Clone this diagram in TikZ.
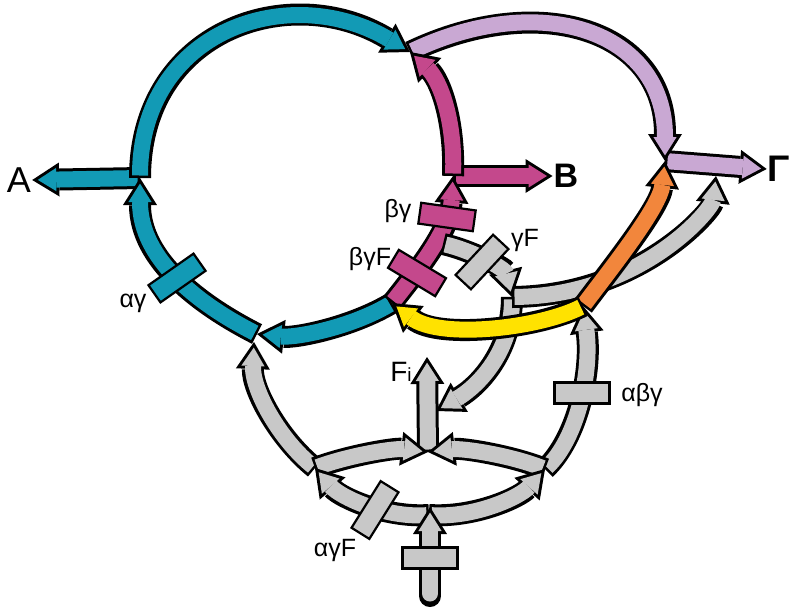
\documentclass[tikz,border=0pt]{standalone}
\usepackage{fontspec}
\setmainfont{Liberation Sans}
\usetikzlibrary{arrows.meta}

\definecolor{fluxblue}{RGB}{18,154,181}
\definecolor{fluxlilac}{RGB}{201,168,211}
\definecolor{fluxpink}{RGB}{196,72,140}
\definecolor{fluxorange}{RGB}{242,134,60}
\definecolor{fluxyellow}{RGB}{255,226,0}
\definecolor{fluxgrey}{RGB}{200,200,200}

\tikzset{
  rim/.style={draw=black, line width=22pt,
    -{Triangle[length=27pt,width=34pt,line width=0pt]}},
  core/.style={draw=#1, line width=16pt, shorten >=5.6pt, shorten <=2.5pt,
    -{Triangle[length=18.4pt,width=23.2pt,line width=0pt]}}
}
% fat arrow: black rim first, coloured core on top
\newcommand{\flux}[3][]{\draw[rim,#1] #3;\draw[core=#2,#1] #3;}

\begin{document}
\begin{tikzpicture}[
x=1pt, y=-1pt,
bar/.style={
  draw=black,
  line width=2.2pt,
  fill=#1,
  minimum width=55pt,
  minimum height=21pt,
  inner sep=0pt
  },
lbl/.style={inner sep=1pt, font=\fontsize{25}{25}\selectfont},
big/.style={inner sep=1pt, font=\fontsize{36}{36}\selectfont}
]
\path[use as bounding box, fill=white] (0,0) rectangle (800,614);

% junctions
\coordinate (jTop) at (410,52);
\coordinate (jA) at (140,178);
\coordinate (jBl) at (257,334);
\coordinate (jBlg) at (254,342);
\coordinate (jBr) at (392,303);
\coordinate (jB) at (453,176);
\coordinate (jM) at (443,244);
\coordinate (jG) at (665,161);
\coordinate (jO) at (583,306);
\coordinate (jK) at (512,297);
\coordinate (jL) at (315,468);
\coordinate (jR) at (545,469);
\coordinate (jF) at (428,452);
\coordinate (jBot) at (429,515);
\coordinate (jIn) at (430,596);
\coordinate (jInTip) at (430,507);
\coordinate (jFi) at (427,357);
\coordinate (jFl) at (436,411);
\coordinate (jGg) at (716,176);

% outputs
\node[big] (lblA) at (19,180) {A};
\node[big, font=\fontsize{34}{34}\selectfont\bfseries] (lblB) at (566,176) {B};
\node[big, font=\fontsize{37}{37}\selectfont\bfseries] (lblG) at (779,169) {Γ};
\node[inner sep=1pt, font=\fontsize{28}{28}\selectfont] (lblFi) at (401,372)
  {F{\fontsize{19}{19}\selectfont i}};

\flux{fluxblue}{(jA) -- (lblA.east)}
\flux{fluxpink}{(jB) -- (lblB.west)}
\flux{fluxlilac}{(jG) -- (lblG.west)}

% lilac, blue and pink cycles
\flux{fluxlilac}{(jTop) .. controls (540,-10) and (665,30) .. (jG)}
\flux{fluxblue}{(jA) .. controls (140,30) and (290,-20) .. (jTop)}
\flux{fluxblue}{(jBl) .. controls (200,305) and (140,260) .. (jA)}
\flux{fluxblue}{(jBr) .. controls (350,328) and (295,338) .. (jBl)}
\flux{fluxpink}{(jB) .. controls (455,120) and (440,80) .. (jTop)}
\flux{fluxpink}{(jBr) .. controls (418,270) and (450,230) .. (jB)}

% grey network
\flux{fluxgrey}{(jF) -- (jFi)}
\flux{fluxgrey}{(jL) .. controls (280,440) and (252,390) .. (jBlg)}
\flux{fluxgrey}{(jR) .. controls (578,438) and (592,370) .. (jO)}
\flux{fluxgrey}{(jL) .. controls (350,455) and (395,448) .. (jF)}
\flux{fluxgrey}{(jR) .. controls (510,455) and (462,448) .. (jF)}
\flux{fluxgrey}{(jBot) .. controls (385,518) and (340,497) .. (jL)}
\flux{fluxgrey}{(jBot) .. controls (475,518) and (520,497) .. (jR)}
\flux[line cap=round]{fluxgrey}{(jIn) -- (jInTip)}
\flux{fluxgrey}{(jK) .. controls (512,350) and (480,385) .. (jFl)}
\flux{fluxgrey}{(jK) .. controls (640,296) and (712,210) .. (jGg)}
\flux{fluxgrey}{(jM) .. controls (470,250) and (505,268) .. (jK)}

\flux{fluxorange}{(jO) .. controls (613,266) and (660,207) .. (jG)}
\flux{fluxyellow}{(jO) .. controls (540,328) and (440,340) .. (jBr)}

% enzyme bars
\foreach \pos/\ang/\col/\nm in {
  {(177,278)}/35/fluxblue/barAG,
  {(447,217)}/-8/fluxpink/barBG,
  {(417,273)}/-31/fluxpink/barBGF,
  {(482,262)}/47/fluxgrey/barGF,
  {(582,393)}/0/fluxgrey/barABG,
  {(375,510)}/58/fluxgrey/barAGF,
  {(430,558)}/0/fluxgrey/barIn}
  \node[bar=\col, rotate=\ang] (\nm) at \pos {};

\node[lbl] (txtAG) at (133,303) {αγ};
\node[lbl] (txtBG) at (398,211) {βγ};
\node[lbl] (txtBGF) at (370,259) {βγF};
\node[lbl] (txtGF) at (525,240) {γF};
\node[lbl] (txtABG) at (642,395) {αβγ};
\node[lbl] (txtAGF) at (335,550) {αγF};
\end{tikzpicture}
\end{document}
